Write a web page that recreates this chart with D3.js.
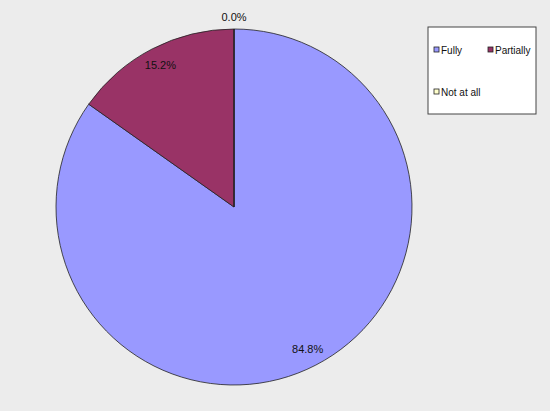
<!DOCTYPE html>
<html lang="en">
<head>
<meta charset="utf-8">
<script src="https://d3js.org/d3.v7.min.js"></script>
<style>
body { margin: 0; background: #ececec; }
svg { display: block; font: 11px "Liberation Sans", Arial, sans-serif; }
</style>
</head>
<body>
<svg width="550" height="411"></svg>
<script>
// categories and shares (percent)
var categories = ["Fully", "Partially", "Not at all"];
var values = [84.8, 15.2, 0.0];
var colors = ["#9999ff", "#993366", "#ffffcc"];

var svg = d3.select("svg"),
    cx = 234, cy = 207, radius = 178;

var pie = d3.pie().sort(null);
var arcs = pie(values);

var arc = d3.arc().innerRadius(0).outerRadius(radius);

var g = svg.append("g").attr("transform", "translate(" + cx + "," + cy + ")");

g.selectAll("path")
  .data(arcs)
  .enter().append("path")
    .attr("d", arc)
    .attr("fill", function(d, i) { return colors[i]; })
    .attr("stroke", "#222")
    .attr("stroke-width", 0.8);

// percentage labels, just inside the edge (outside for an empty slice)
g.selectAll("text.lbl")
  .data(arcs)
  .enter().append("text")
    .attr("class", "lbl")
    .attr("text-anchor", "middle")
    .attr("dy", "0.35em")
    .attr("fill", "#111")
    .attr("transform", function(d) {
      var a = (d.startAngle + d.endAngle) / 2,
          r = d.value === 0 ? radius + 12 : radius * 0.9;
      return "translate(" + (Math.sin(a) * r) + "," + (-Math.cos(a) * r) + ")";
    })
    .text(function(d) { return d.value.toFixed(1) + "%"; });

// legend
var legend = svg.append("g").attr("transform", "translate(428,27)");
legend.append("rect")
  .attr("width", 108).attr("height", 87)
  .attr("fill", "#fff").attr("stroke", "#444");

var pos = [[6, 23], [60, 23], [6, 65]];
var item = legend.selectAll("g.item")
  .data(categories)
  .enter().append("g")
    .attr("class", "item")
    .attr("transform", function(d, i) { return "translate(" + pos[i][0] + "," + pos[i][1] + ")"; });

item.append("rect")
  .attr("x", 0).attr("y", -3).attr("width", 5).attr("height", 5)
  .attr("fill", function(d, i) { return colors[i]; })
  .attr("stroke", "#222").attr("stroke-width", 0.8);

item.append("text")
  .attr("x", 7).attr("dy", "0.35em")
  .attr("font-size", "10px")
  .attr("fill", "#111")
  .text(function(d) { return d; });
</script>
</body>
</html>
